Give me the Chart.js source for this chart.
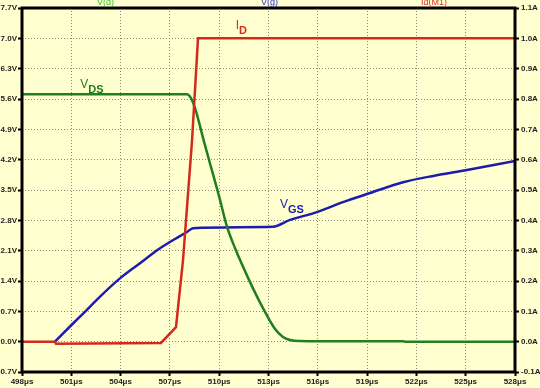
<!DOCTYPE html>
<html>
<head>
<meta charset="utf-8">
<script src="https://cdn.jsdelivr.net/npm/chart.js@4/dist/chart.umd.min.js"></script>
<style>
  html, body { margin: 0; padding: 0; background: #ffffd0; }
  canvas { display: block; }
</style>
</head>
<body>
<canvas id="chart" width="540" height="388"></canvas>
<script>
// time axis in microseconds
const vdsTime = [498, 508.04, 508.28, 508.53, 509.08, 509.5, 509.99, 510.47, 510.96, 511.87, 512.6, 513.4, 513.88, 514.31, 514.92, 516.1, 521.2, 521.3, 528];
const vdsVolts = [5.71, 5.71, 5.62, 5.39, 4.61, 4.03, 3.36, 2.66, 2.16, 1.38, 0.82, 0.29, 0.11, 0.04, 0.015, 0.01, 0.01, 0.0, 0.0];

// gate trace begins at 500us (sits under Id at 0 before that)
const vgsTime = [500.0, 500.92, 501.83, 502.75, 503.96, 505.18, 506.22, 507.31, 508.04, 508.41, 513.27, 514.31, 515.95, 517.53, 519.18, 521.19, 523.1, 525.08, 528];
const vgsVolts = [0.0, 0.35, 0.69, 1.04, 1.46, 1.81, 2.11, 2.37, 2.53, 2.62, 2.65, 2.81, 2.99, 3.22, 3.43, 3.68, 3.83, 3.96, 4.17];

const idTime = [498, 500.0, 500.07, 506.46, 507.37, 507.8, 508.35, 508.71, 528];
const idAmps = [0.0, 0.0, -0.007, -0.004, 0.048, 0.27, 0.665, 1.0, 1.0];

const timeTicks = [498, 501, 504, 507, 510, 513, 516, 519, 522, 525, 528];
const voltTicks = [-0.7, 0.0, 0.7, 1.4, 2.1, 2.8, 3.5, 4.2, 4.9, 5.6, 6.3, 7.0, 7.7];
const ampTicks = [-0.1, 0.0, 0.1, 0.2, 0.3, 0.4, 0.5, 0.6, 0.7, 0.8, 0.9, 1.0, 1.1];

const toPoints = (xs, ys) => xs.map((x, i) => ({ x: x, y: ys[i] }));

const RED = '#d42a1e';
const GREEN = '#1f7f1f';
const BLUE = '#1c1cae';
const tickFont = { family: 'Liberation Sans, Arial, sans-serif', size: 8, weight: 'bold' };

// thick black frame + trace names on top + annotations
const decorations = {
  id: 'decorations',
  afterDatasetsDraw(chart) {
    const { ctx, chartArea: a, scales } = chart;
    ctx.save();
    ctx.strokeStyle = '#000';
    ctx.lineWidth = 3;
    ctx.strokeRect(a.left, a.top, a.right - a.left, a.bottom - a.top);

    ctx.font = '9px Liberation Sans, Arial, sans-serif';
    ctx.textBaseline = 'alphabetic';
    ctx.fillStyle = '#33c233';
    ctx.fillText('V(d)', 97, 5);
    ctx.fillStyle = '#2a2ad0';
    ctx.fillText('V(g)', 261, 5);
    ctx.fillStyle = '#e03030';
    ctx.fillText('Id(M1)', 421, 5);

    const sub = (main, subTxt, x, y, color) => {
      ctx.fillStyle = color;
      ctx.font = '12px Liberation Sans, Arial, sans-serif';
      ctx.fillText(main, x, y);
      const w = ctx.measureText(main).width;
      ctx.font = 'bold 11px Liberation Sans, Arial, sans-serif';
      ctx.fillText(subTxt, x + w, y + 5);
    };
    const x = scales.x, yv = scales.yV, ya = scales.yA;
    sub('V', 'DS', x.getPixelForValue(501.55), yv.getPixelForValue(5.85), GREEN);
    sub('I', 'D', x.getPixelForValue(511.0), ya.getPixelForValue(1.03), RED);
    sub('V', 'GS', x.getPixelForValue(513.7), yv.getPixelForValue(3.08), BLUE);
    ctx.restore();
  }
};

new Chart(document.getElementById('chart'), {
  type: 'line',
  data: {
    datasets: [
      { label: 'Id(M1)', data: toPoints(idTime, idAmps), yAxisID: 'yA', borderColor: RED, borderWidth: 2.5, tension: 0 },
      { label: 'V(d)', data: toPoints(vdsTime, vdsVolts), yAxisID: 'yV', borderColor: GREEN, borderWidth: 2.5, cubicInterpolationMode: 'monotone' },
      { label: 'V(g)', data: toPoints(vgsTime, vgsVolts), yAxisID: 'yV', borderColor: BLUE, borderWidth: 2.5, cubicInterpolationMode: 'monotone' }
    ]
  },
  options: {
    responsive: false,
    animation: false,
    events: [],
    layout: { padding: { top: 8, left: 0, right: 0, bottom: 0 } },
    elements: { point: { radius: 0 } },
    plugins: { legend: { display: false }, tooltip: { enabled: false } },
    scales: {
      x: {
        type: 'linear', min: 498, max: 528,
        afterBuildTicks: s => { s.ticks = timeTicks.map(v => ({ value: v })); },
        afterFit: s => { s.height = 16; },
        ticks: { callback: v => v + 'μs', maxRotation: 0, autoSkip: false, padding: 1, color: '#222', font: tickFont },
        grid: { color: '#8a8a78', lineWidth: 1, tickColor: '#000', tickWidth: 2, tickLength: 4 },
        border: { display: false, dash: [1, 2] }
      },
      yV: {
        type: 'linear', position: 'left', min: -0.7, max: 7.7,
        afterBuildTicks: s => { s.ticks = voltTicks.map(v => ({ value: v })); },
        afterFit: s => { s.width = 22; },
        ticks: { callback: v => v.toFixed(1) + 'V', autoSkip: false, padding: 1, color: '#222', font: tickFont },
        grid: { color: '#8a8a78', lineWidth: 1, tickColor: '#000', tickWidth: 2, tickLength: 4 },
        border: { display: false, dash: [1, 2] }
      },
      yA: {
        type: 'linear', position: 'right', min: -0.1, max: 1.1,
        afterBuildTicks: s => { s.ticks = ampTicks.map(v => ({ value: v })); },
        afterFit: s => { s.width = 25; },
        ticks: { callback: v => v.toFixed(1) + 'A', autoSkip: false, padding: 2, color: '#222', font: tickFont },
        grid: { drawOnChartArea: false, tickColor: '#000', tickWidth: 2, tickLength: 4 },
        border: { display: false }
      }
    }
  },
  plugins: [decorations]
});
</script>
</body>
</html>
